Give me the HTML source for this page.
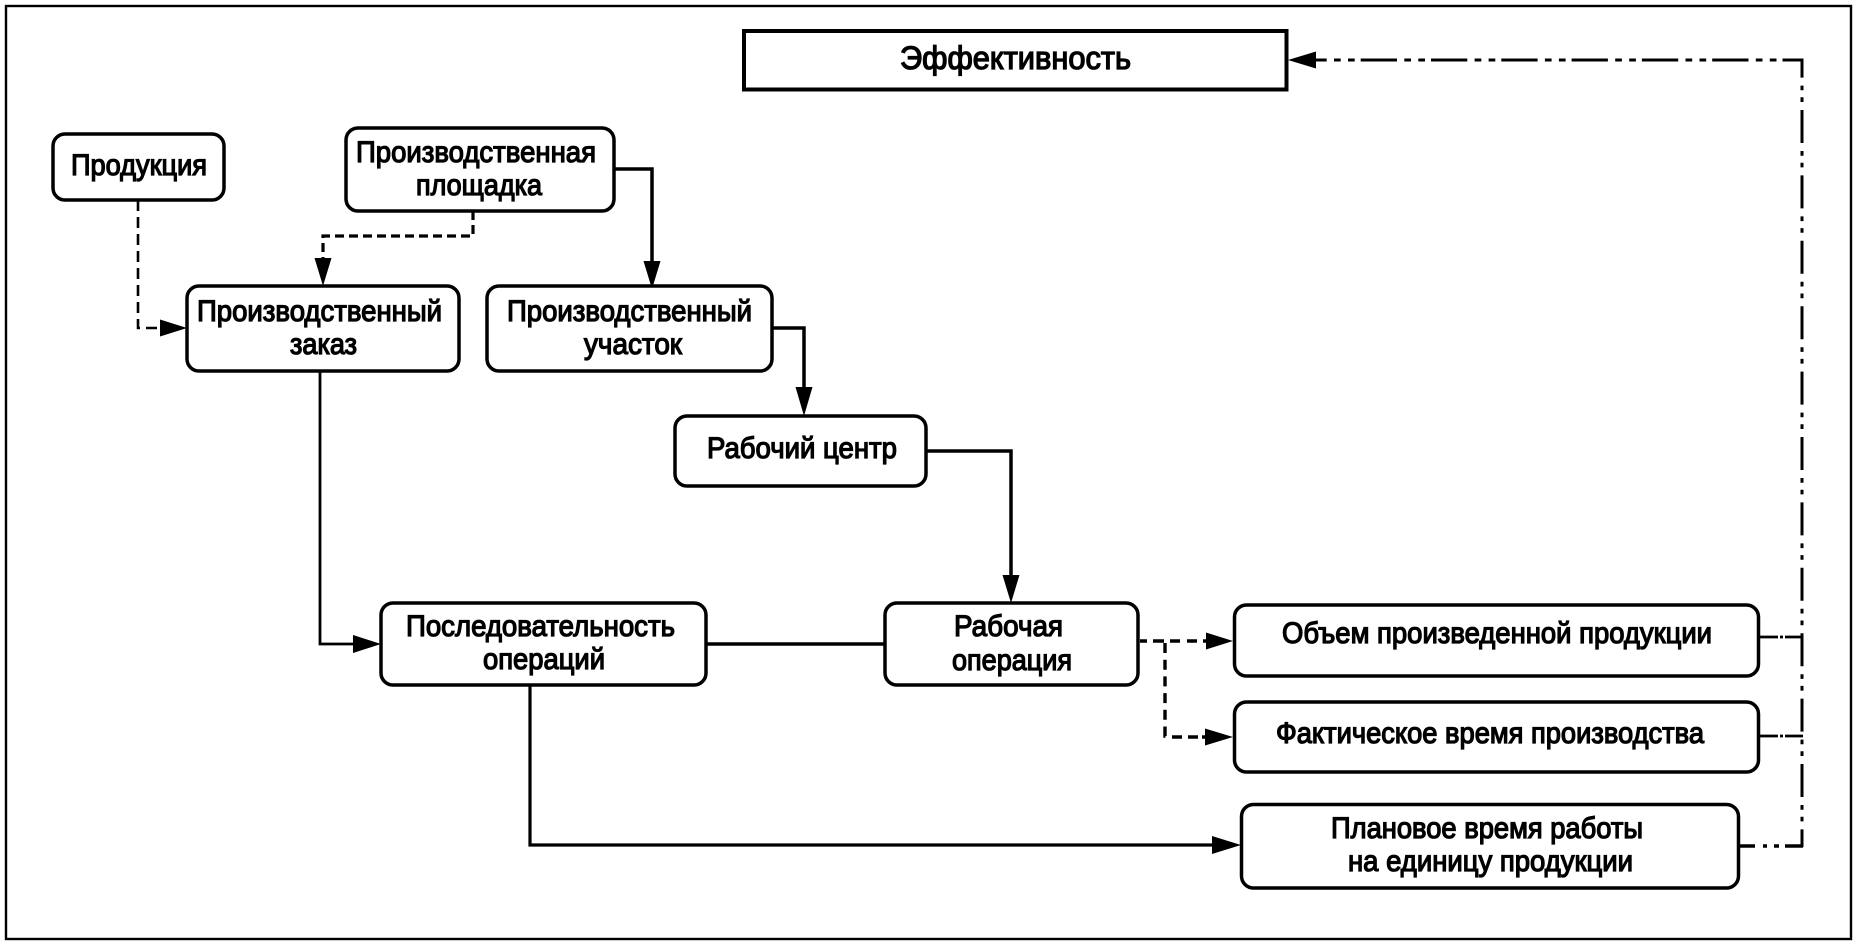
<!DOCTYPE html>
<html lang="ru">
<head>
<meta charset="utf-8">
<style>
html,body{margin:0;padding:0;background:#fff;}
svg{display:block;}
text{font-family:"Liberation Sans",Arial,sans-serif;font-size:30px;fill:#000;stroke:#000;stroke-width:1.3px;}
.b{fill:#fff;stroke:#000;stroke-width:3.5;}
.l{fill:none;stroke:#000;stroke-linejoin:miter;}
</style>
</head>
<body>
<svg width="1858" height="946" viewBox="0 0 1858 946" xmlns="http://www.w3.org/2000/svg">
<rect width="1858" height="946" fill="#fff"/>
<rect x="6" y="6" width="1845" height="933" fill="none" stroke="#000" stroke-width="2.4"/>

<!-- connectors -->
<path class="l" stroke-width="2.6" stroke-dasharray="11 6" d="M138 200V328H162"/>
<path class="l" stroke-width="3.2" stroke-dasharray="9 5" d="M473 211V236H323V262"/>
<path class="l" stroke-width="3.5" d="M614 169H652V265"/>
<path class="l" stroke-width="3.5" d="M772 328H804V392"/>
<path class="l" stroke-width="3.5" d="M926 451H1011V580"/>
<path class="l" stroke-width="2.8" d="M320 371V644H358"/>
<path class="l" stroke-width="3.5" d="M706 644H884"/>
<path class="l" stroke-width="3.2" d="M530 685V845H1218"/>
<path class="l" stroke-width="3.4" d="M1140 641H1147M1153 641H1164M1170 641H1180M1187 641H1197M1203 641H1210"/>
<path class="l" stroke-width="3.4" stroke-dasharray="10 6.7" d="M1165 643V736H1168"/>
<path class="l" stroke-width="3.4" d="M1172 737H1182M1188 737H1198M1202 737H1210"/>

<!-- dash-dot feedback -->
<path class="l" stroke-width="3" stroke-dasharray="33 8 4.7 7 4.7 8" stroke-dashoffset="15.4" d="M1802 60V847"/>
<path class="l" stroke-width="3" stroke-dasharray="36.3 7.3 6.7 7.3 6.7 6" stroke-dashoffset="24.6" d="M1315 60H1803.5"/>
<path class="l" stroke-width="2.8" d="M1760 637H1778M1780 637H1783M1785 637H1802"/>
<path class="l" stroke-width="2.8" d="M1760 736H1778M1780 736H1783M1785 736H1803"/>
<path class="l" stroke-width="3.4" d="M1739 846H1755M1763 846H1767M1774 846H1779M1785 846H1803"/>

<!-- arrowheads -->
<g fill="#000">
<polygon points="187,328 160,319.5 160,336.5"/>
<polygon points="323,286 314.5,258 331.5,258"/>
<polygon points="652,289 643.5,261 660.5,261"/>
<polygon points="804,416 795.5,387 812.5,387"/>
<polygon points="1011,603 1002.5,575 1019.5,575"/>
<polygon points="381,644 353,635 353,653"/>
<polygon points="1241,845 1212,836 1212,854"/>
<polygon points="1233,641 1206,632.5 1206,649.5"/>
<polygon points="1233,737 1205,728.5 1205,745.5"/>
<polygon points="1288,60 1316,51.5 1316,68.5"/>
</g>

<!-- boxes -->
<rect x="744" y="31" width="542.5" height="58.5" fill="#fff" stroke="#000" stroke-width="4"/>
<rect class="b" x="53" y="134" width="171" height="66" rx="12"/>
<rect class="b" x="346" y="128" width="268" height="83" rx="12"/>
<rect class="b" x="187" y="286" width="272" height="85" rx="12"/>
<rect class="b" x="487" y="286" width="285" height="85" rx="12"/>
<rect class="b" x="675" y="416" width="251" height="70" rx="12"/>
<rect class="b" x="381" y="603" width="325" height="82" rx="12"/>
<rect class="b" x="885" y="603" width="253" height="82" rx="12"/>
<rect class="b" x="1234.5" y="605" width="524" height="71" rx="12"/>
<rect class="b" x="1234.5" y="702" width="524" height="70" rx="12"/>
<rect class="b" x="1241.5" y="804.5" width="497" height="83.5" rx="12"/>

<!-- labels -->
<text x="900" y="69" textLength="231" lengthAdjust="spacingAndGlyphs" style="font-size:32px">Эффективность</text>
<text x="71" y="175" textLength="136" lengthAdjust="spacingAndGlyphs">Продукция</text>
<text x="356" y="162" textLength="240" lengthAdjust="spacingAndGlyphs">Производственная</text>
<text x="416" y="195" textLength="126" lengthAdjust="spacingAndGlyphs">площадка</text>
<text x="197" y="321" textLength="245" lengthAdjust="spacingAndGlyphs">Производственный</text>
<text x="290" y="354" textLength="67" lengthAdjust="spacingAndGlyphs">заказ</text>
<text x="507" y="321" textLength="245" lengthAdjust="spacingAndGlyphs">Производственный</text>
<text x="584" y="354" textLength="98" lengthAdjust="spacingAndGlyphs">участок</text>
<text x="707" y="458" textLength="190" lengthAdjust="spacingAndGlyphs">Рабочий центр</text>
<text x="406" y="636" textLength="269" lengthAdjust="spacingAndGlyphs">Последовательность</text>
<text x="483" y="669" textLength="122" lengthAdjust="spacingAndGlyphs">операций</text>
<text x="954" y="636" textLength="109" lengthAdjust="spacingAndGlyphs">Рабочая</text>
<text x="952" y="670" textLength="120" lengthAdjust="spacingAndGlyphs">операция</text>
<text x="1282" y="643" textLength="430" lengthAdjust="spacingAndGlyphs">Объем произведенной продукции</text>
<text x="1276" y="743" textLength="428" lengthAdjust="spacingAndGlyphs">Фактическое время производства</text>
<text x="1331" y="838" textLength="312" lengthAdjust="spacingAndGlyphs">Плановое время работы</text>
<text x="1348" y="871" textLength="285" lengthAdjust="spacingAndGlyphs">на единицу продукции</text>
</svg>
</body>
</html>
